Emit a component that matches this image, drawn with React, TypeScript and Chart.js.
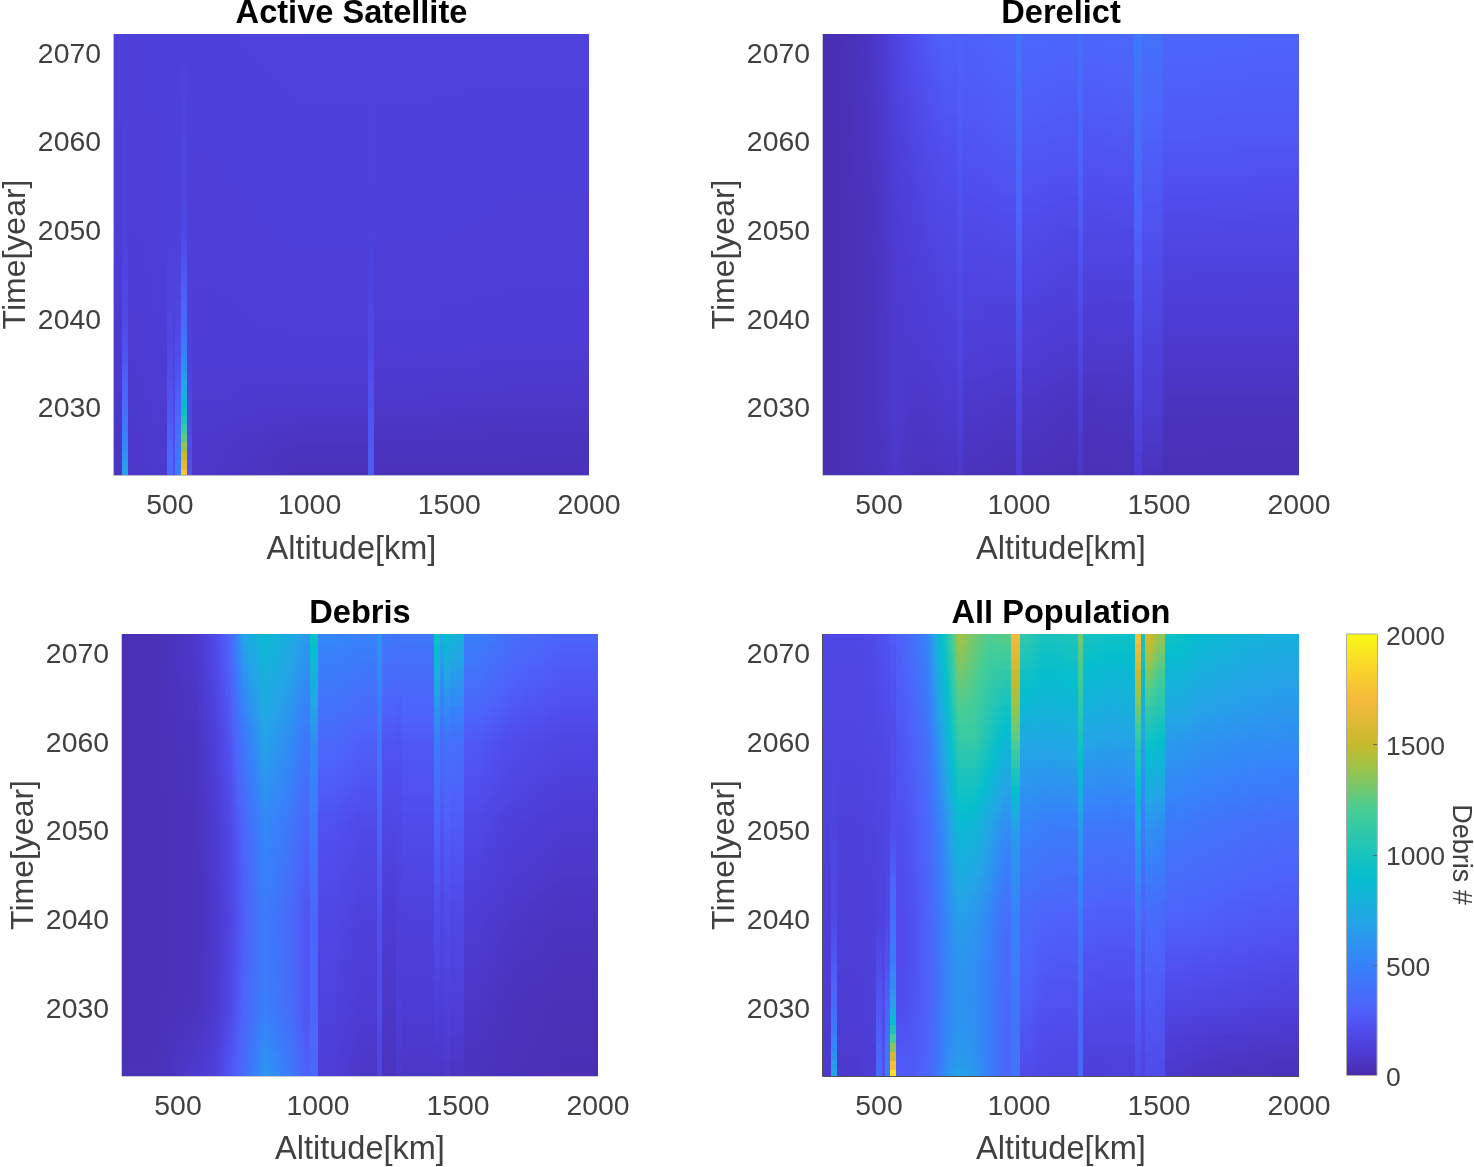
import React, { useEffect, useRef } from "react";
import { Chart, registerables } from "chart.js";

Chart.register(...registerables);

const FONT = "'Liberation Sans', Arial, sans-serif";
const INK = "#404040";

const altitudeTicks = [500, 1000, 1500, 2000];
const yearTicks = [2030, 2040, 2050, 2060, 2070];
const colorbarTicks = [0, 500, 1000, 1500, 2000];

// Colour bar: [value, r, g, b]
const colorStops = [
  [0, 72, 44, 172], [100, 77, 60, 212], [200, 80, 76, 236], [300, 78, 98, 250], [500, 55, 130, 250],
  [700, 35, 165, 230], [900, 5, 190, 205], [1000, 25, 195, 190], [1200, 70, 205, 150],
  [1400, 160, 195, 70], [1500, 200, 185, 45], [1700, 245, 185, 60], [1900, 250, 225, 35],
  [2000, 250, 250, 20],
];

// ---- Active Satellite ----
const activeEdges = [300, 330, 350, 400, 490, 510, 520, 540, 560, 580, 700, 1210, 1230, 1500, 2000];
const activeYears = [2022, 2024, 2026, 2028, 2031, 2035, 2040, 2050, 2072];
const activeValues = [
  [50, 700, 70, 80, 350, 220, 480, 1800, 220, 70, 35, 260, 35, 35],
  [60, 620, 75, 85, 330, 210, 440, 1560, 210, 75, 40, 260, 40, 40],
  [60, 520, 75, 85, 300, 200, 400, 1300, 190, 75, 50, 250, 50, 45],
  [65, 430, 80, 90, 270, 180, 350, 1080, 170, 85, 65, 240, 60, 55],
  [70, 330, 85, 95, 230, 170, 280, 800, 150, 90, 85, 220, 80, 75],
  [80, 250, 90, 100, 190, 150, 210, 550, 130, 100, 100, 190, 95, 90],
  [90, 180, 95, 110, 150, 130, 160, 330, 120, 105, 115, 160, 110, 105],
  [110, 130, 110, 120, 125, 120, 125, 170, 120, 118, 125, 130, 125, 120],
  [120, 125, 122, 125, 130, 125, 130, 135, 130, 130, 135, 135, 135, 135],
];
const activeHard: number[] = [];

// ---- Derelict ----
const derelictEdges = [300, 430, 500, 540, 570, 650, 700, 780, 800, 900, 990, 1010, 1100, 1210, 1230, 1300, 1410, 1440, 1515, 1700, 2000];
const derelictYears = [2022, 2030, 2040, 2050, 2060, 2072];
const derelictValues = [
  [20, 40, 50, 70, 50, 45, 50, 70, 40, 30, 100, 30, 25, 60, 25, 28, 90, 45, 22, 20],
  [20, 45, 60, 90, 70, 70, 85, 120, 75, 65, 160, 65, 50, 110, 45, 50, 150, 95, 45, 45],
  [20, 40, 60, 85, 95, 110, 130, 170, 130, 125, 230, 125, 110, 180, 105, 105, 220, 150, 100, 100],
  [20, 45, 70, 100, 120, 150, 170, 210, 180, 190, 300, 190, 175, 250, 170, 175, 300, 220, 170, 165],
  [20, 50, 80, 120, 150, 190, 220, 260, 240, 260, 370, 260, 250, 320, 245, 250, 370, 290, 255, 250],
  [20, 60, 100, 150, 200, 260, 300, 310, 300, 320, 420, 330, 320, 380, 320, 330, 450, 390, 320, 310],
];
const derelictHard = [1410, 1440, 1515];

// ---- Debris ----
const debrisEdges = [300, 530, 600, 660, 710, 760, 860, 940, 970, 1000, 1100, 1210, 1230, 1280, 1300, 1415, 1435, 1450, 1470, 1520, 1620, 1750, 2000];
const debrisYears = [2022, 2030, 2040, 2050, 2060, 2072];
const debrisValues = [
  [30, 90, 130, 250, 350, 620, 460, 300, 340, 110, 65, 140, 45, 75, 65, 60, 55, 80, 50, 40, 30, 20],
  [25, 45, 80, 170, 320, 480, 370, 240, 320, 140, 100, 190, 70, 110, 100, 120, 110, 130, 120, 65, 40, 25],
  [25, 40, 80, 150, 280, 470, 350, 240, 320, 170, 130, 220, 100, 125, 130, 200, 160, 190, 170, 100, 70, 50],
  [25, 40, 90, 170, 320, 530, 430, 320, 430, 220, 180, 300, 160, 170, 190, 300, 230, 280, 260, 170, 120, 90],
  [25, 50, 120, 230, 430, 680, 560, 430, 560, 340, 290, 420, 240, 230, 260, 470, 350, 400, 380, 260, 200, 160],
  [25, 80, 180, 320, 700, 860, 750, 640, 950, 530, 500, 620, 440, 420, 430, 950, 720, 900, 800, 480, 380, 310],
];
const debrisHard = [970, 1000, 1520];

// ---- All Population ----
const allEdges = [300, 330, 350, 400, 450, 490, 510, 520, 540, 560, 600, 650, 700, 730, 760, 810, 870, 920, 970, 1005, 1060, 1110, 1160, 1210, 1230, 1290, 1350, 1415, 1435, 1450, 1480, 1520, 1600, 1700, 1800, 1900, 2000];
const allYears = [2022, 2024, 2026, 2028, 2031, 2035, 2040, 2050, 2060, 2072];
const allValues = [
  [70, 720, 80, 85, 105, 380, 240, 500, 2000, 280, 270, 340, 450, 620, 700, 640, 480, 340, 410, 190, 170, 165, 165, 340, 115, 120, 120, 190, 150, 200, 190, 70, 50, 45, 40, 35],
  [85, 620, 90, 90, 105, 330, 220, 440, 1650, 260, 260, 320, 430, 570, 640, 600, 470, 340, 410, 210, 180, 175, 175, 330, 130, 135, 135, 210, 160, 210, 200, 90, 70, 60, 55, 50],
  [90, 520, 95, 95, 110, 300, 210, 400, 1250, 240, 250, 310, 420, 550, 620, 590, 470, 340, 410, 230, 190, 185, 185, 330, 150, 150, 150, 230, 170, 225, 215, 110, 90, 80, 75, 70],
  [95, 430, 100, 100, 115, 270, 200, 350, 950, 220, 250, 310, 420, 540, 610, 580, 480, 340, 420, 250, 205, 200, 200, 320, 170, 165, 165, 250, 185, 240, 230, 130, 120, 110, 100, 95],
  [100, 330, 105, 105, 120, 240, 190, 290, 620, 200, 240, 300, 410, 520, 600, 570, 480, 350, 440, 280, 235, 225, 225, 340, 195, 190, 190, 290, 205, 265, 255, 180, 170, 160, 150, 140],
  [110, 260, 110, 110, 125, 190, 170, 230, 480, 190, 230, 300, 410, 520, 610, 580, 490, 360, 470, 310, 265, 255, 255, 380, 230, 220, 220, 340, 235, 300, 290, 230, 220, 210, 200, 190],
  [115, 180, 115, 115, 125, 140, 135, 170, 380, 190, 230, 300, 430, 540, 660, 620, 520, 380, 500, 340, 310, 300, 295, 440, 285, 275, 275, 410, 295, 350, 340, 300, 290, 270, 260, 250],
  [130, 150, 130, 130, 140, 150, 155, 160, 210, 210, 260, 340, 480, 620, 850, 820, 700, 560, 650, 500, 470, 460, 460, 620, 430, 420, 430, 680, 450, 590, 550, 440, 410, 390, 370, 360],
  [150, 150, 150, 150, 160, 170, 175, 180, 190, 240, 300, 400, 620, 820, 1120, 1130, 1000, 850, 1230, 720, 720, 720, 740, 980, 700, 680, 690, 1100, 680, 950, 900, 640, 600, 580, 570, 560],
  [170, 170, 170, 170, 185, 210, 225, 240, 260, 300, 400, 520, 850, 1050, 1420, 1300, 1220, 1250, 1700, 1100, 1000, 1000, 1020, 1300, 980, 950, 950, 1750, 1000, 1550, 1380, 950, 870, 830, 800, 780],
];
const allHard = [970, 1005, 1520];

const MIN_SOFT_WIDTH = 30;

function colorOf(v: number): number[] {
  const s = colorStops;
  if (v <= s[0][0]) return s[0].slice(1);
  for (let i = 1; i < s.length; i++) {
    if (v <= s[i][0]) {
      const t = (v - s[i - 1][0]) / (s[i][0] - s[i - 1][0]);
      return [1, 2, 3].map((k) => s[i - 1][k] + (s[i][k] - s[i - 1][k]) * t);
    }
  }
  return s[s.length - 1].slice(1);
}

// Shades across a column border unless a column is a narrow spike or the border is a marked hard edge.
function shade(ds: any, xv: number, at: (c: number) => number): number {
  const e = ds.edges;
  let c = 0;
  while (c < e.length - 2 && xv >= e[c + 1]) c++;
  const mid = (i: number) => (e[i] + e[i + 1]) / 2;
  const wide = (i: number) => e[i + 1] - e[i] >= MIN_SOFT_WIDTH;
  const v = at(c);
  if (!wide(c)) return v;
  if (xv < mid(c) && c > 0 && wide(c - 1) && !ds.hard.includes(e[c])) {
    return v + (at(c - 1) - v) * ((mid(c) - xv) / (mid(c) - mid(c - 1)));
  }
  if (xv > mid(c) && c < e.length - 2 && wide(c + 1) && !ds.hard.includes(e[c + 1])) {
    return v + (at(c + 1) - v) * ((xv - mid(c)) / (mid(c + 1) - mid(c)));
  }
  return v;
}

// Paints the shaded grid held by the dataset, with positions from the chart's own scales.
const heatPlugin = {
  id: "heat",
  beforeDatasetsDraw(chart: any) {
    const ds = chart.data.datasets[0];
    const { left, top, right, bottom } = chart.chartArea;
    const L = Math.round(left), T = Math.round(top);
    const w = Math.round(right) - L, h = Math.round(bottom) - T;
    const img = chart.ctx.createImageData(w, h);
    const xs = chart.scales.x, ys = chart.scales.y;
    for (let py = 0; py < h; py++) {
      const yv = ys.getValueForPixel(T + py + 0.5);
      let at: (c: number) => number;
      if (ds.colorbar) {
        at = () => yv;
      } else {
        const yq = Math.floor(yv) + 0.5;
        const R = ds.years;
        let r = 0;
        while (r < R.length - 2 && yq > R[r + 1]) r++;
        const t = Math.min(1, Math.max(0, (yq - R[r]) / (R[r + 1] - R[r])));
        at = (c) => ds.values[r][c] + (ds.values[r + 1][c] - ds.values[r][c]) * t;
      }
      for (let px = 0; px < w; px++) {
        const value = ds.colorbar ? yv : shade(ds, xs.getValueForPixel(L + px + 0.5), at);
        const rgb = colorOf(value);
        const o = (py * w + px) * 4;
        img.data[o] = rgb[0];
        img.data[o + 1] = rgb[1];
        img.data[o + 2] = rgb[2];
        img.data[o + 3] = 255;
      }
    }
    chart.ctx.putImageData(img, L, T);
    const ctx = chart.ctx;
    ctx.save();
    ctx.strokeStyle = ds.edgeColor;
    ctx.lineWidth = 1;
    ctx.beginPath();
    ctx.moveTo(L - 0.5, T);
    ctx.lineTo(L - 0.5, T + h + 0.5);
    ctx.lineTo(L + w, T + h + 0.5);
    if (ds.colorbar) {
      ctx.lineTo(L + w + 0.5, T);
      ctx.lineTo(L - 0.5, T);
    }
    ctx.stroke();
    if (ds.colorbar) {
      ctx.strokeStyle = "#666";
      for (const v of colorbarTicks.slice(1, -1)) {
        const p = Math.round(ys.getPixelForValue(v)) + 0.5;
        ctx.beginPath();
        ctx.moveTo(L + w - 4, p);
        ctx.lineTo(L + w, p);
        ctx.stroke();
      }
    }
    ctx.restore();
  },
};

const cellPoints = (edges: number[], years: number[], values: number[][]) =>
  years.flatMap((y, r) =>
    values[r].map((v, c) => ({ x: (edges[c] + edges[c + 1]) / 2, y, v }))
  );

type Panel = {
  title: string; edges: number[]; years: number[]; values: number[][]; hard: number[];
  left: number; top: number; height: number; areaW: number; areaH: number; edgeColor: string;
};

const panels: Panel[] = [
  { title: "Active Satellite", edges: activeEdges, years: activeYears, values: activeValues, hard: activeHard, left: 0, top: 0, height: 567, areaW: 475, areaH: 441, edgeColor: "#b8b8c8" },
  { title: "Derelict", edges: derelictEdges, years: derelictYears, values: derelictValues, hard: derelictHard, left: 709, top: 0, height: 567, areaW: 476, areaH: 441, edgeColor: "#c8c8d8" },
  { title: "Debris", edges: debrisEdges, years: debrisYears, values: debrisValues, hard: debrisHard, left: 8, top: 600, height: 567, areaW: 476, areaH: 442, edgeColor: "#c8c8d8" },
  { title: "All Population", edges: allEdges, years: allYears, values: allValues, hard: allHard, left: 709, top: 600, height: 567, areaW: 476, areaH: 442, edgeColor: "#505050" },
];

const CANVAS_W = 640;
const AXIS_W = 114;
const TITLE_H = 34;

function panelConfig(p: Panel): any {
  return {
    type: "scatter",
    data: {
      datasets: [{
        label: p.title,
        data: cellPoints(p.edges, p.years, p.values),
        edges: p.edges, years: p.years, values: p.values, hard: p.hard, edgeColor: p.edgeColor,
        pointRadius: 0,
      }],
    },
    plugins: [heatPlugin],
    options: {
      animation: false,
      responsive: false,
      events: [],
      layout: { padding: { left: 0, top: 0, bottom: 0, right: CANVAS_W - AXIS_W - p.areaW } },
      plugins: {
        legend: { display: false },
        tooltip: { enabled: false },
        title: {
          display: true, text: p.title, color: "#000", fullSize: false,
          padding: { top: 0, bottom: 6 },
          font: { family: FONT, size: 32.6, weight: "bold", lineHeight: "28px" },
        },
      },
      scales: {
        x: {
          type: "linear", min: 300, max: 2000,
          grid: { display: false, drawTicks: false }, border: { display: false },
          afterBuildTicks: (a: any) => { a.ticks = altitudeTicks.map((value) => ({ value })); },
          afterFit: (a: any) => { a.height = p.height - TITLE_H - p.areaH; },
          ticks: { color: INK, padding: 14, maxRotation: 0, autoSkip: false, font: { family: FONT, size: 28.4 }, callback: (v: number) => String(v) },
          title: { display: true, text: "Altitude[km]", color: INK, padding: 0, font: { family: FONT, size: 32.5, lineHeight: 1.05 } },
        },
        y: {
          type: "linear", min: 2022.3, max: 2072.1,
          grid: { display: false, drawTicks: false }, border: { display: false },
          afterBuildTicks: (a: any) => { a.ticks = yearTicks.map((value) => ({ value })); },
          afterFit: (a: any) => { a.width = AXIS_W; },
          ticks: { color: INK, padding: 13, labelOffset: 2.5, autoSkip: false, font: { family: FONT, size: 28.4 }, callback: (v: number) => String(v) },
          title: { display: true, text: "Time[year]", color: INK, padding: 0, font: { family: FONT, size: 32, lineHeight: 1 } },
        },
      },
    },
  };
}

const colorbarConfig: any = {
  type: "scatter",
  data: {
    datasets: [{
      label: "Debris #",
      data: colorbarTicks.map((v) => ({ x: 0, y: v, v })),
      colorbar: true, edges: [0, 1], hard: [], edgeColor: "#aaaaaa", pointRadius: 0,
    }],
  },
  plugins: [heatPlugin],
  options: {
    animation: false,
    responsive: false,
    events: [],
    layout: { padding: { left: 7, top: 34, bottom: 23, right: 0 } },
    plugins: { legend: { display: false }, tooltip: { enabled: false }, title: { display: false } },
    scales: {
      x: { type: "linear", min: 0, max: 1, display: false },
      y: {
        type: "linear", position: "right", min: 0, max: 2000,
        grid: { display: false, drawTicks: false }, border: { display: false },
        afterBuildTicks: (a: any) => { a.ticks = colorbarTicks.map((value) => ({ value })); },
        afterFit: (a: any) => { a.width = 97; },
        ticks: { color: INK, padding: 9, labelOffset: 3.5, autoSkip: false, font: { family: FONT, size: 26.5 }, callback: (v: number) => String(v) },
        title: { display: true, text: "Debris #", color: INK, padding: 0, font: { family: FONT, size: 27, lineHeight: 1 } },
      },
    },
  },
};

function Panel({ config, left, top, width, height }: any) {
  const ref = useRef<HTMLCanvasElement>(null);
  useEffect(() => {
    const chart = new Chart(ref.current as HTMLCanvasElement, config);
    return () => chart.destroy();
  }, [config]);
  return (
    <canvas
      ref={ref}
      width={width}
      height={height}
      style={{ position: "absolute", left, top, width, height, display: "block" }}
    />
  );
}

const panelConfigs = panels.map(panelConfig);

export default function App() {
  return (
    <div style={{ position: "absolute", left: 0, top: 0, width: 1474, height: 1167, overflow: "hidden", background: "#fff" }}>
      {panels.map((p, i) => (
        <Panel key={p.title} config={panelConfigs[i]} left={p.left} top={p.top} width={CANVAS_W} height={p.height} />
      ))}
      <Panel config={colorbarConfig} left={1340} top={600} width={134} height={500} />
    </div>
  );
}
